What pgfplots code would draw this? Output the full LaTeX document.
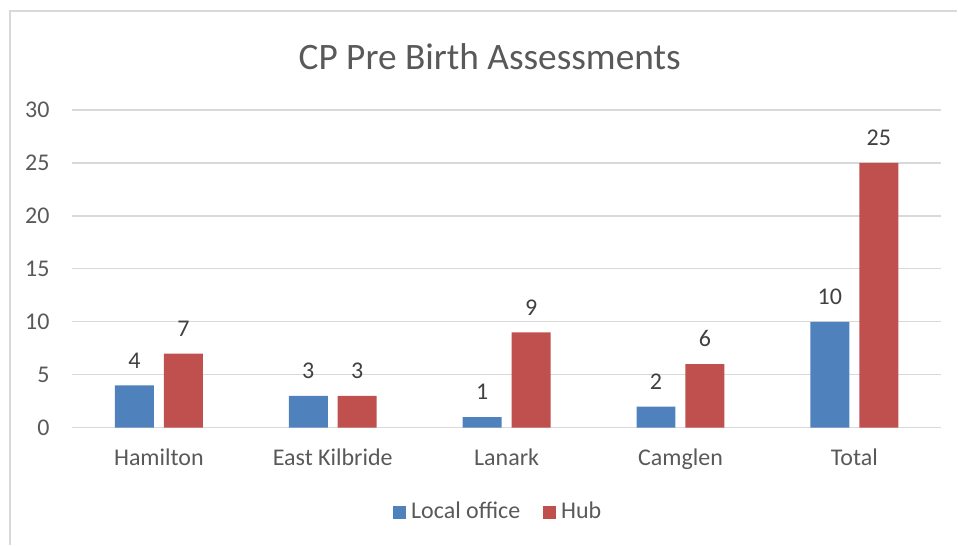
\documentclass[border=0pt]{standalone}
\usepackage{pgfplots}
\pgfplotsset{compat=1.18}
\usepackage{fontspec}
\setmainfont{Carlito}

\definecolor{localblue}{HTML}{4F81BD}
\definecolor{hubred}{HTML}{C0504D}
\definecolor{gridgray}{HTML}{D9D9D9}
\definecolor{labelgray}{HTML}{595959}
\definecolor{valgray}{HTML}{404040}

\begin{document}
\begin{tikzpicture}
\begin{axis}[
    scale only axis,
    width=326.25pt,
    height=119.25pt,
    ybar=3.75pt,
    bar width=14.625pt,
    xmin=-0.5, xmax=4.5,
    ymin=0, ymax=30,
    xtick=data,
    xticklabels={Hamilton, East Kilbride, Lanark, Camglen, Total},
    ytick={0,5,...,30},
    major tick length=0pt,
    axis line style={draw=none},
    ymajorgrids=true,
    grid style={gridgray, line width=0.5pt},
    /pgf/number format/assume math mode=true,
    tick label style={text=labelgray, font=\fontsize{9}{11}\selectfont},
    yticklabel style={xshift=-4.9pt},
    xticklabel style={yshift=-4.5pt},
    nodes near coords,
    every node near coord/.append style={text=valgray, font=\fontsize{9}{11}\selectfont, yshift=2.9pt},
    legend columns=2,
    legend style={
        at={(0.492,-0.266)},
        anchor=center,
        draw=none,
        fill=none,
        font=\fontsize{9}{11}\selectfont,
        text=labelgray,
        /tikz/every even column/.append style={column sep=6.4pt},
        inner sep=0pt,
    },
    legend image code/.code={\fill[#1] (0pt,-2.45pt) rectangle (4.9pt,2.45pt);},
]
\addplot[fill=localblue, draw=none] coordinates {(0,4) (1,3) (2,1) (3,2) (4,10)};
\addplot[fill=hubred, draw=none] coordinates {(0,7) (1,3) (2,9) (3,6) (4,25)};
\legend{Local office, Hub}
\coordinate (pll) at (rel axis cs:0,0);
\end{axis}
% frame, in pixel units of the reference, origin at the lower left of the plot area
\begin{scope}[shift={(pll)}, x=0.375pt, y=0.375pt]
\path (-72,-117) rectangle (886,428);
\draw[gridgray, line width=0.55pt] (-62,-117) -- (-62,417) -- (886,417);
\node[anchor=base, text=labelgray, font=\fontsize{14}{17}\selectfont] at (418,358) {CP Pre Birth Assessments};
\end{scope}
\end{tikzpicture}
\end{document}
